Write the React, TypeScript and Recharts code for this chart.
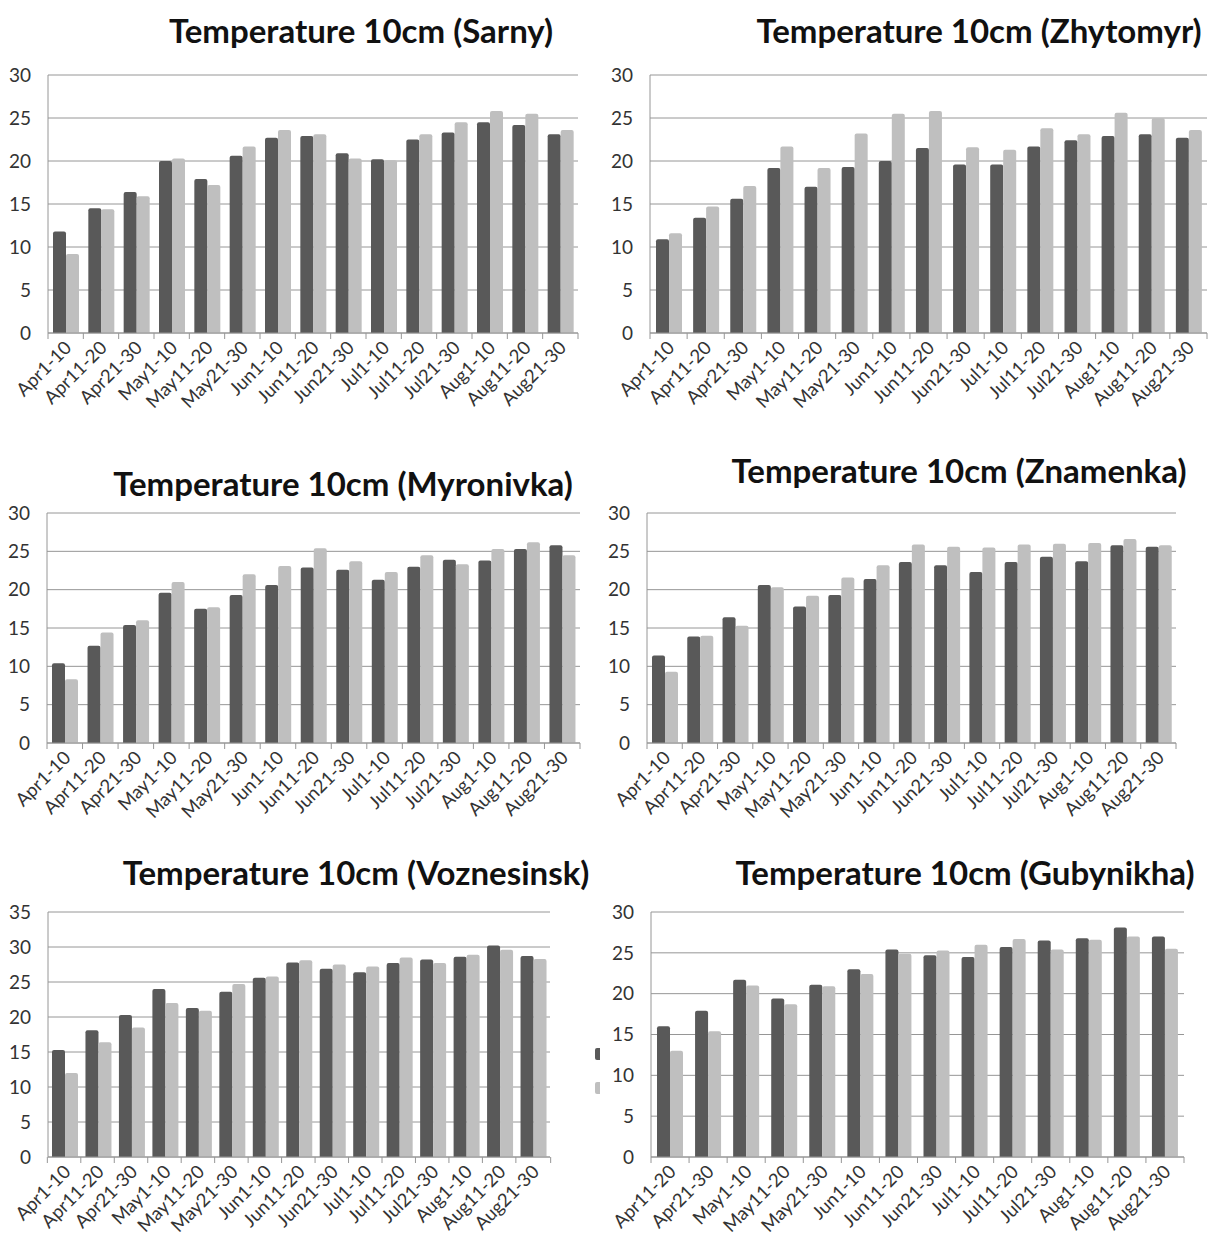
import { BarChart, Bar, XAxis, YAxis, CartesianGrid, Legend } from "recharts";

const periods = [
  "Apr1-10", "Apr11-20", "Apr21-30", "May1-10", "May11-20", "May21-30",
  "Jun1-10", "Jun11-20", "Jun21-30", "Jul1-10", "Jul11-20", "Jul21-30",
  "Aug1-10", "Aug11-20", "Aug21-30",
];
const periodsGub = periods.slice(1);

const sarnyDark = [11.8, 14.5, 16.4, 20.0, 17.9, 20.6, 22.7, 22.9, 20.9, 20.2, 22.5, 23.3, 24.5, 24.2, 23.1];
const sarnyLight = [9.2, 14.4, 15.9, 20.3, 17.2, 21.7, 23.6, 23.1, 20.3, 20.1, 23.1, 24.5, 25.8, 25.5, 23.6];

const zhytDark = [10.9, 13.4, 15.6, 19.2, 17.0, 19.3, 20.0, 21.5, 19.6, 19.6, 21.7, 22.4, 22.9, 23.1, 22.7];
const zhytLight = [11.6, 14.7, 17.1, 21.7, 19.2, 23.2, 25.5, 25.8, 21.6, 21.3, 23.8, 23.1, 25.6, 25.0, 23.6];

const myroDark = [10.4, 12.7, 15.4, 19.6, 17.5, 19.3, 20.6, 22.9, 22.6, 21.3, 23.0, 23.9, 23.8, 25.3, 25.8];
const myroLight = [8.3, 14.4, 16.0, 21.0, 17.7, 22.0, 23.1, 25.4, 23.7, 22.3, 24.5, 23.3, 25.3, 26.2, 24.5];

const znamDark = [11.4, 13.9, 16.4, 20.6, 17.8, 19.3, 21.4, 23.6, 23.2, 22.3, 23.6, 24.3, 23.7, 25.8, 25.6];
const znamLight = [9.3, 14.0, 15.3, 20.3, 19.2, 21.6, 23.2, 25.9, 25.6, 25.5, 25.9, 26.0, 26.1, 26.6, 25.8];

const voznDark = [15.3, 18.1, 20.3, 24.0, 21.3, 23.6, 25.6, 27.8, 26.9, 26.4, 27.7, 28.2, 28.6, 30.2, 28.7];
const voznLight = [12.0, 16.4, 18.5, 22.0, 20.9, 24.7, 25.8, 28.1, 27.5, 27.2, 28.5, 27.7, 28.9, 29.6, 28.3];

const gubyDark = [16.0, 17.9, 21.7, 19.4, 21.1, 23.0, 25.4, 24.7, 24.5, 25.7, 26.5, 26.8, 28.1, 27.0];
const gubyLight = [13.0, 15.4, 21.0, 18.7, 20.9, 22.4, 24.9, 25.3, 26.0, 26.7, 25.4, 26.6, 27.0, 25.5];

const toRows = (cats: string[], a: number[], b: number[]) =>
  cats.map((c, i) => ({ period: c, s1: a[i], s2: b[i] }));

const FONT = "Lato, 'Open Sans', sans-serif";
const GRID = "#969696";
const AXIS_W = 48;
const TOP_PAD = 16;

interface PanelProps {
  title: string;
  rows: { period: string; s1: number; s2: number }[];
  plotLeft: number;
  plotRight: number;
  plotTop: number;
  plotBottom: number;
  yMax: number;
  titleCx: number;
  titleCy: number;
  clipRight?: number;
  legend?: boolean;
}

function Panel(p: PanelProps) {
  const left = p.plotLeft - AXIS_W;
  const top = p.plotTop - TOP_PAD;
  const rightPad = 10;
  const width = p.plotRight - p.plotLeft + AXIS_W + rightPad;
  const height = p.plotBottom - p.plotTop + TOP_PAD + 100;
  const n = p.rows.length;
  const bw = (p.plotRight - p.plotLeft) / n;
  const ticks: number[] = [];
  for (let v = 0; v <= p.yMax; v += 5) ticks.push(v);

  const XTick = (props: any) => {
    const { x, y, payload, index } = props;
    return (
      <g>
        <line x1={x - bw / 2} x2={x - bw / 2} y1={y} y2={y + 6} stroke={GRID} />
        {index === n - 1 && (
          <line x1={x + bw / 2} x2={x + bw / 2} y1={y} y2={y + 6} stroke={GRID} />
        )}
        <text
          x={x + 7}
          y={y + 16}
          transform={`rotate(-45, ${x + 7}, ${y + 16})`}
          textAnchor="end"
          fontSize={18.5}
          fontFamily={FONT}
          fill="#333"
        >
          {payload.value}
        </text>
      </g>
    );
  };

  return (
    <>
      <div
        style={{
          position: "absolute",
          left: p.titleCx - 300,
          top: p.titleCy - 20,
          width: 600,
          textAlign: "center",
          fontFamily: FONT,
          fontWeight: 700,
          fontSize: 33,
          lineHeight: "40px",
          color: "#111",
          whiteSpace: "nowrap",
        }}
      >
        {p.title}
      </div>
      <div
        style={{
          position: "absolute",
          left,
          top,
          width: p.clipRight ? p.clipRight - left : width,
          height,
          overflow: "hidden",
        }}
      >
        <BarChart
          width={p.legend ? width + 60 : width}
          height={height}
          data={p.rows}
          margin={{ top: TOP_PAD, right: p.legend ? rightPad + 60 : rightPad, bottom: 0, left: 0 }}
          barGap={0}
        >
          <CartesianGrid vertical={false} stroke={GRID} />
          <XAxis
            dataKey="period"
            interval={0}
            tickLine={false}
            tickSize={0}
            tickMargin={0}
            height={100}
            axisLine={{ stroke: GRID }}
            tick={XTick}
          />
          <YAxis
            width={AXIS_W}
            domain={[0, p.yMax]}
            ticks={ticks}
            interval={0}
            tickLine={false}
            tickSize={0}
            tickMargin={17}
            axisLine={{ stroke: GRID }}
            tick={{ fontSize: 19, fontFamily: FONT, fill: "#333" }}
          />
          {p.legend && (
            <Legend
              layout="vertical"
              align="right"
              verticalAlign="top"
              wrapperStyle={{ left: 595 - left, top: 1048 - top, width: 20 }}
              content={() => (
                <div>
                  <div style={{ width: 10, height: 12, background: "#595959", borderRadius: 2 }} />
                  <div style={{ width: 10, height: 12, background: "#bfbfbf", borderRadius: 2, marginTop: 22 }} />
                </div>
              )}
            />
          )}
          <Bar dataKey="s1" fill="#595959" barSize={13} radius={[2, 2, 0, 0]} isAnimationActive={false} />
          <Bar dataKey="s2" fill="#bfbfbf" barSize={13} radius={[2, 2, 0, 0]} isAnimationActive={false} />
        </BarChart>
      </div>
    </>
  );
}

export default function App() {
  return (
    <div
      style={{
        position: "absolute",
        left: 0,
        top: 0,
        width: 1220,
        height: 1236,
        background: "#fff",
        overflow: "hidden",
      }}
    >
      <Panel title="Temperature 10cm (Sarny)" rows={toRows(periods, sarnyDark, sarnyLight)}
        plotLeft={48} plotRight={578} plotTop={75} plotBottom={333} yMax={30} titleCx={361} titleCy={30} />
      <Panel title="Temperature 10cm (Zhytomyr)" rows={toRows(periods, zhytDark, zhytLight)}
        plotLeft={650} plotRight={1207} plotTop={75} plotBottom={333} yMax={30} titleCx={979} titleCy={30} />
      <Panel title="Temperature 10cm (Myronivka)" rows={toRows(periods, myroDark, myroLight)}
        plotLeft={47} plotRight={580} plotTop={513} plotBottom={743} yMax={30} titleCx={343} titleCy={483} />
      <Panel title="Temperature 10cm (Znamenka)" rows={toRows(periods, znamDark, znamLight)}
        plotLeft={647} plotRight={1176} plotTop={513} plotBottom={743} yMax={30} titleCx={959} titleCy={470} />
      <Panel title="Temperature 10cm (Voznesinsk)" rows={toRows(periods, voznDark, voznLight)}
        plotLeft={48} plotRight={570} plotTop={912} plotBottom={1157} yMax={35} titleCx={356} titleCy={872}
        clipRight={600} legend />
      <Panel title="Temperature 10cm (Gubynikha)" rows={toRows(periodsGub, gubyDark, gubyLight)}
        plotLeft={651} plotRight={1184} plotTop={912} plotBottom={1157} yMax={30} titleCx={965} titleCy={872} />
    </div>
  );
}
